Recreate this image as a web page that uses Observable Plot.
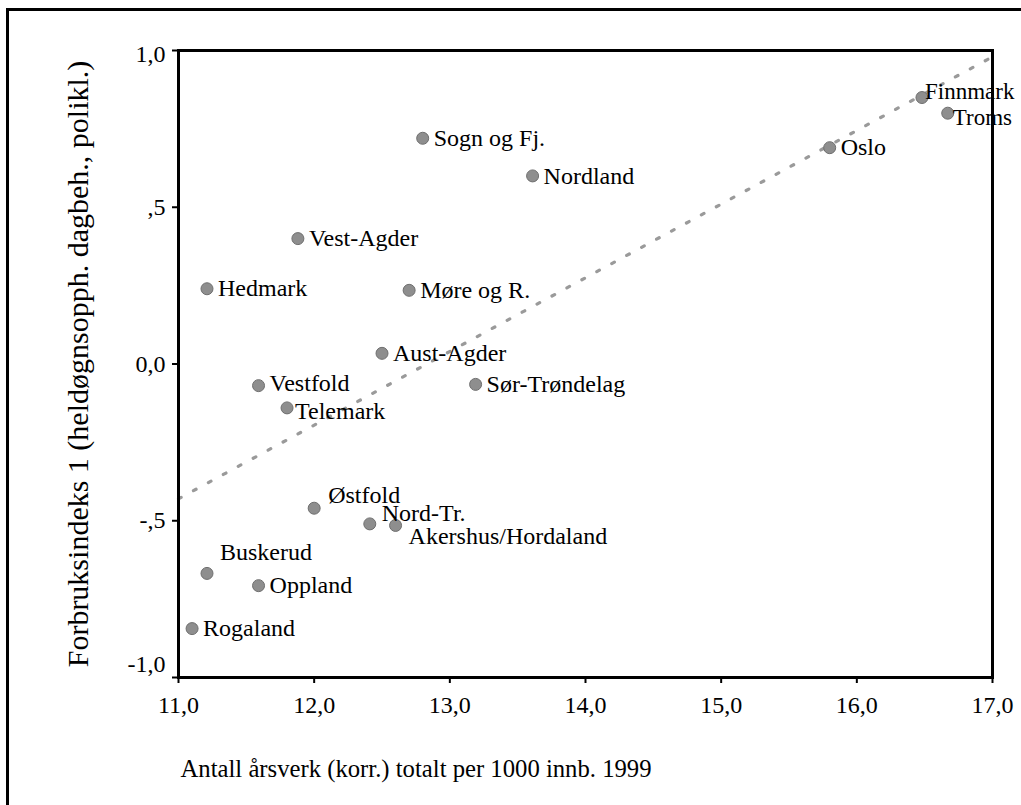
<!DOCTYPE html>
<html>
<head>
<meta charset="utf-8">
<script src="https://cdn.jsdelivr.net/npm/d3@7"></script>
<script src="https://cdn.jsdelivr.net/npm/@observablehq/plot@0.6"></script>
<style>
  html, body { margin: 0; padding: 0; background: #fff; overflow: hidden; }
  #wrap { position: relative; width: 1021px; height: 805px; }
  #border { position: absolute; left: 6px; top: 8px; right: -20px; bottom: -20px;
            border-left: 3px solid #000; border-top: 3px solid #000; pointer-events: none; }
</style>
</head>
<body>
<div id="wrap"><div id="border"></div></div>
<script>
// ---- data ----
const names = ["Finnmark", "Troms", "Oslo", "Sogn og Fj.", "Nordland", "Vest-Agder", "Hedmark",
  "Møre og R.", "Aust-Agder", "Sør-Trøndelag", "Vestfold", "Telemark", "Østfold", "Nord-Tr.",
  "Akershus/Hordaland", "Buskerud", "Oppland", "Rogaland"];
const xValues = [16.48, 16.67, 15.8, 12.8, 13.61, 11.88, 11.21, 12.7, 12.5, 13.19, 11.59, 11.8,
  12.0, 12.41, 12.6, 11.21, 11.59, 11.1];
const yValues = [0.85, 0.80, 0.69, 0.72, 0.60, 0.40, 0.24, 0.235, 0.034, -0.065, -0.069, -0.14,
  -0.46, -0.51, -0.515, -0.668, -0.707, -0.844];
const trendX = [11, 17];
const trendY = [-0.43, 0.98];
const xTicks = [11, 12, 13, 14, 15, 16, 17];
const xTickLabels = ["11,0", "12,0", "13,0", "14,0", "15,0", "16,0", "17,0"];
const yTicks = [-1, -0.5, 0, 0.5, 1];
const yTickLabels = ["-1,0", "-,5", "0,0", ",5", "1,0"];
const xTitle = "Antall årsverk (korr.) totalt per 1000 innb. 1999";
const yTitle = "Forbruksindeks 1 (heldøgnsopph. dagbeh., polikl.)";

// ---- build ----
const points = names.map((n, i) => ({name: n, x: xValues[i], y: yValues[i]}));
const trend = trendX.map((x, i) => ({x, y: trendY[i]}));
const xLab = new Map(xTicks.map((t, i) => [t, xTickLabels[i]]));
const yLab = new Map(yTicks.map((t, i) => [t, yTickLabels[i]]));

const font = "'Liberation Serif', 'Times New Roman', serif";
const special = new Set(["Østfold", "Buskerud", "Nord-Tr.", "Akershus/Hordaland", "Finnmark",
  "Troms", "Vestfold", "Telemark"]);

const lab = (filter, dx, dy, fontSize = 24) => Plot.text(points.filter(filter), {
  x: "x", y: "y", text: "name", dx, dy, textAnchor: "start", fontSize, fill: "#000"
});
const yLabel = (filter, dy) => Plot.text(yTicks.filter(filter), {
  y: d => d, text: d => yLab.get(d), frameAnchor: "left", textAnchor: "end",
  dx: -13, dy, fontSize: 24, fill: "#000"
});

const chart = Plot.plot({
  width: 1021,
  height: 805,
  marginLeft: 178,
  marginRight: 29,
  marginTop: 50,
  marginBottom: 128,
  style: {fontFamily: font, fontSize: "24px", background: "#fff", overflow: "visible"},
  x: {domain: [11, 17]},
  y: {domain: [-1, 1]},
  marks: [
    Plot.line(trend, {x: "x", y: "y", stroke: "#9a9a9a", strokeWidth: 3.2, strokeDasharray: "3,14"}),
    Plot.dot(points, {x: "x", y: "y", r: 6, fill: "#8e8e8e", stroke: "#6f6f6f", strokeWidth: 1}),
    lab(d => !special.has(d.name), 11, 0),
    lab(d => d.name === "Finnmark", 3, -6, 23),
    lab(d => d.name === "Troms", 5, 4, 23),
    lab(d => d.name === "Vestfold", 11, -2),
    lab(d => d.name === "Telemark", 8, 3),
    lab(d => d.name === "Østfold", 14, -13),
    lab(d => d.name === "Buskerud", 13, -21),
    lab(d => d.name === "Nord-Tr.", 12, -11),
    lab(d => d.name === "Akershus/Hordaland", 13, 11),
    Plot.axisX({ticks: xTicks, tickFormat: d => xLab.get(d), tickSize: 6, tickPadding: 12,
      fontSize: 24, label: null, stroke: "#000", strokeWidth: 2}),
    Plot.axisY({ticks: yTicks, tickFormat: () => "", tickSize: 6, label: null,
      stroke: "#000", strokeWidth: 2}),
    yLabel(d => d === 1, 4),
    yLabel(d => d > -1 && d < 1, 0),
    yLabel(d => d === -1, -13),
    Plot.frame({stroke: "#000", strokeWidth: 3}),
    Plot.text([xTitle], {text: d => d, frameAnchor: "bottom-left", dx: 2, dy: 99,
      textAnchor: "start", fontSize: 24.7, fill: "#000"}),
    Plot.text([yTitle], {text: d => d, frameAnchor: "left", rotate: -90, dx: -100,
      textAnchor: "middle", fontSize: 30, fill: "#000"})
  ]
});
document.getElementById("wrap").prepend(chart);
</script>
</body>
</html>
